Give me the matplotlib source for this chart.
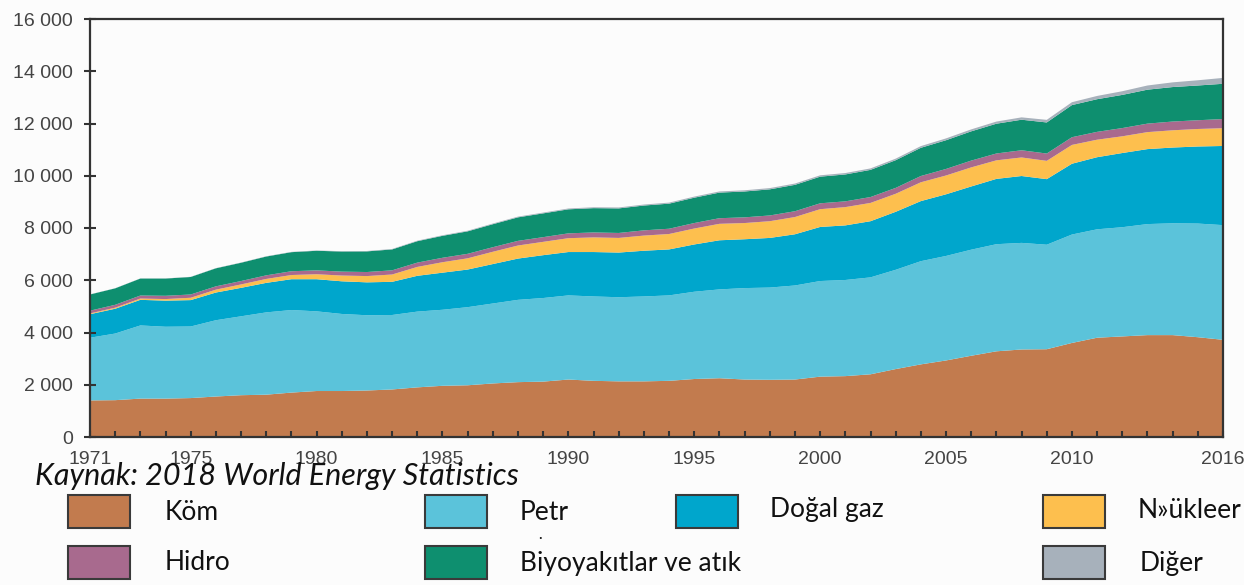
import matplotlib
matplotlib.use("Agg")
import matplotlib.pyplot as plt
from matplotlib.patches import Rectangle
from matplotlib.ticker import FuncFormatter
import numpy as np

years = list(range(1971, 2017))

coal = [1400, 1410, 1470, 1470, 1490, 1550, 1600, 1620, 1700, 1760, 1760, 1780, 1820, 1900, 1960,
        1980, 2050, 2100, 2120, 2200, 2150, 2130, 2130, 2150, 2220, 2250, 2200, 2190, 2200, 2310,
        2330, 2400, 2600, 2780, 2930, 3110, 3280, 3350, 3360, 3600, 3800, 3850, 3900, 3900, 3820, 3720]
oil = [2400, 2550, 2800, 2750, 2740, 2920, 3020, 3150, 3160, 3050, 2950, 2880, 2850, 2900, 2910,
       2990, 3060, 3150, 3200, 3220, 3230, 3220, 3250, 3270, 3340, 3400, 3500, 3530, 3600, 3660,
       3680, 3710, 3800, 3950, 4000, 4060, 4100, 4080, 4000, 4150, 4150, 4180, 4250, 4280, 4350, 4390]
gas = [900, 950, 980, 1000, 1010, 1060, 1090, 1130, 1180, 1230, 1250, 1260, 1270, 1370, 1420,
       1440, 1510, 1580, 1640, 1660, 1700, 1710, 1750, 1760, 1810, 1880, 1870, 1900, 1960, 2070,
       2090, 2150, 2220, 2300, 2360, 2420, 2500, 2560, 2510, 2710, 2760, 2840, 2870, 2900, 2950, 3030]
nuclear = [30, 40, 50, 60, 90, 110, 130, 150, 160, 190, 220, 240, 280, 340, 400,
           430, 470, 500, 510, 530, 560, 560, 580, 590, 610, 630, 620, 640, 660, 680,
           700, 700, 690, 720, 720, 730, 710, 710, 700, 720, 670, 640, 650, 660, 670, 680]
hydro = [105, 110, 115, 125, 125, 127, 130, 138, 145, 148, 150, 155, 160, 165, 170,
         172, 175, 178, 180, 185, 190, 190, 200, 202, 210, 215, 218, 220, 222, 225,
         220, 225, 225, 240, 250, 260, 262, 275, 280, 295, 300, 315, 325, 335, 335, 350]
bio = [620, 630, 650, 660, 670, 690, 700, 720, 730, 750, 770, 790, 800, 820, 840,
       860, 880, 900, 910, 920, 930, 940, 950, 960, 970, 980, 990, 1000, 1010, 1020,
       1030, 1040, 1060, 1080, 1100, 1120, 1140, 1170, 1190, 1230, 1250, 1270, 1300, 1320, 1330, 1350]
other = [5, 5, 6, 6, 7, 8, 9, 10, 11, 12, 13, 15, 17, 20, 22, 24, 26, 28, 30, 32, 34, 36, 38,
         40, 42, 44, 46, 48, 50, 52, 54, 56, 60, 65, 70, 75, 82, 90, 100, 110, 125, 140, 160,
         180, 200, 225]

series_labels = ["Köm", "Petr", "Doğal gaz", "N»ükleer", "Hidro", "Biyoyakıtlar ve atık", "Diğer"]
colors = ["#C27B4E", "#5BC3DA", "#00A6CC", "#FDBF4E", "#A86A8E", "#0E8F6F", "#A7B1BB"]

xtick_years = [1971, 1975, 1980, 1985, 1990, 1995, 2000, 2005, 2010, 2016]
yticks = list(range(0, 16001, 2000))
caption = "Kaynak: 2018 World Energy Statistics"

W, H = 1244, 585
fig = plt.figure(figsize=(W / 100, H / 100), dpi=100, facecolor="#fcfcfc")
ax = fig.add_axes([90 / W, 1 - 437 / H, (1223 - 90) / W, (437 - 19) / H])
ax.set_facecolor("#fcfcfc")

ax.stackplot(years, coal, oil, gas, nuclear, hydro, bio, other, colors=colors, linewidth=0)

ax.set_xlim(1971, 2016)
ax.set_ylim(0, 16000)
ax.set_xticks(years, minor=True)
ax.set_xticks(xtick_years)
ax.set_yticks(yticks)
ax.yaxis.set_major_formatter(FuncFormatter(lambda v, p: f"{int(v):,}".replace(",", " ")))

for lab in ax.get_xticklabels() + ax.get_yticklabels():
    lab.set_fontfamily(["Liberation Sans", "DejaVu Sans"])
    lab.set_fontsize(14)
    lab.set_color("#444444")

ax.tick_params(axis="y", direction="inout", length=9, width=1.5, color="#333333", pad=8)
ax.tick_params(axis="x", which="both", direction="in", length=4, width=1.5, color="#333333", pad=10)
for s in ax.spines.values():
    s.set_linewidth(1.6)
    s.set_color("#333333")
    s.set_zorder(5)

fig.text(35 / W, 1 - 476 / H, caption, fontsize=22, style="italic", family=["Lato", "DejaVu Sans"],
         ha="left", va="center", color="#111111")

legend_pos = [
    (68, 495, 165, 512),    # Köm
    (425, 495, 520, 512),   # Petr
    (676, 495, 770, 510),   # Doğal gaz
    (1043, 495, 1138, 510), # Nükleer
    (68, 546, 165, 562),    # Hidro
    (425, 546, 520, 564),   # Biyo
    (1043, 546, 1140, 564), # Diğer
]
for (px, py, tx, ty), lab, col in zip(legend_pos, series_labels, colors):
    fig.add_artist(Rectangle((px / W, 1 - (py + 33) / H), 62 / W, 33 / H, transform=fig.transFigure,
                             facecolor=col, edgecolor="#3a3a3a", linewidth=1.5))
    fig.text(tx / W, 1 - ty / H, lab, fontsize=19, family=["Lato", "DejaVu Sans"],
             ha="left", va="center", color="#111111")
fig.text(540 / W, 1 - 538 / H, "·", fontsize=10, family=["Lato", "DejaVu Sans"], ha="center", va="center",
         color="#111111")

fig.savefig("out.png", dpi=100, facecolor=fig.get_facecolor())
